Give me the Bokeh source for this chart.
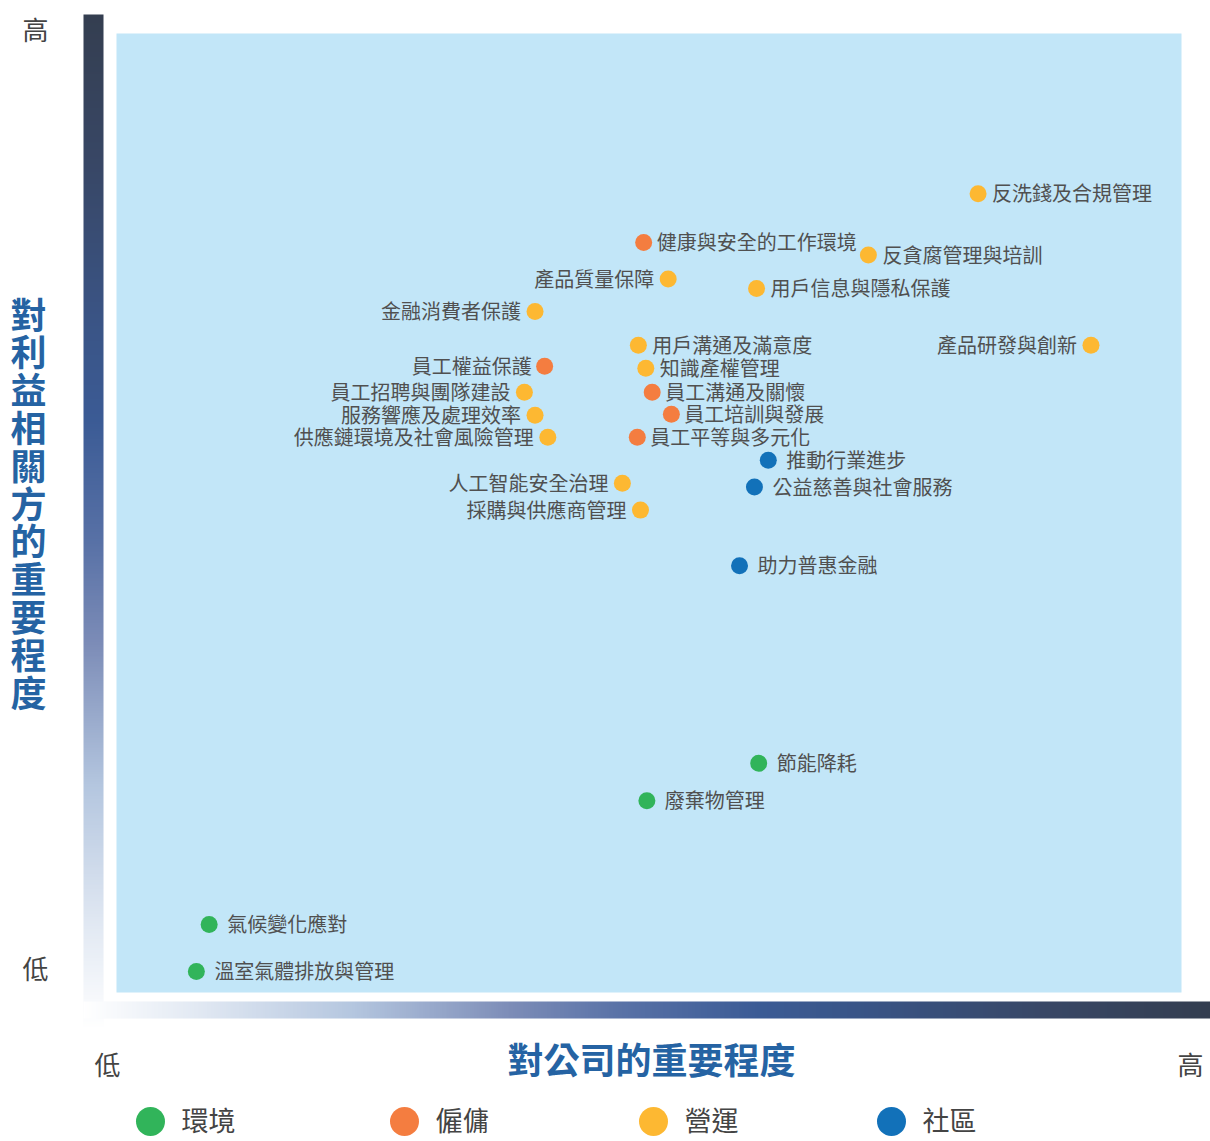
import numpy as np
from bokeh.plotting import figure
from bokeh.models import Range1d, ColumnDataSource
from bokeh.core.properties import value
from bokeh.embed import file_html
from bokeh.resources import INLINE

# ---------------- data ----------------
categories = ["環境", "僱傭", "營運", "社區"]
cat_colors = ["#31b45a", "#f47d40", "#fdb832", "#1271b9"]

topics = [
    "節能降耗", "廢棄物管理", "氣候變化應對", "溫室氣體排放與管理",
    "健康與安全的工作環境", "員工權益保護", "員工溝通及關懷", "員工培訓與發展", "員工平等與多元化",
    "反洗錢及合規管理", "反貪腐管理與培訓", "產品質量保障", "用戶信息與隱私保護", "金融消費者保護",
    "用戶溝通及滿意度", "產品研發與創新", "知識產權管理", "員工招聘與團隊建設", "服務響應及處理效率",
    "供應鏈環境及社會風險管理", "人工智能安全治理", "採購與供應商管理",
    "推動行業進步", "公益慈善與社會服務", "助力普惠金融",
]
topic_category = [
    "環境", "環境", "環境", "環境",
    "僱傭", "僱傭", "僱傭", "僱傭", "僱傭",
    "營運", "營運", "營運", "營運", "營運",
    "營運", "營運", "營運", "營運", "營運",
    "營運", "營運", "營運",
    "社區", "社區", "社區",
]
# importance to the company (x) and to stakeholders (y), 0-100
company_importance = [
    60.3, 49.8, 8.7, 7.5,
    49.5, 40.2, 50.3, 52.1, 48.9,
    80.9, 70.6, 51.8, 60.1, 39.3,
    49.0, 91.5, 49.7, 38.3, 39.3,
    40.5, 47.5, 49.2,
    61.2, 59.9, 58.5,
]
stakeholder_importance = [
    23.9, 20.0, 7.1, 2.2,
    78.2, 65.3, 62.6, 60.3, 57.9,
    83.3, 76.9, 74.4, 73.4, 71.0,
    67.5, 67.5, 65.1, 62.6, 60.2,
    57.9, 53.1, 50.3,
    55.5, 52.7, 44.5,
]
label_side = [
    "R", "R", "R", "R",
    "R", "L", "R", "R", "R",
    "R", "R", "L", "R", "L",
    "R", "L", "R", "L", "L",
    "L", "L", "L",
    "R", "R", "R",
]

x_title = "對公司的重要程度"
y_title = "對利益相關方的重要程度"
low_label, high_label = "低", "高"

# ---------------- layout helpers (pixel -> data) ----------------
W, H = 1210, 1141
PX0, PX1 = 116, 1181   # plot area left/right (px)
PY0, PY1 = 992, 33     # plot area bottom/top (px)
SX = (PX1 - PX0) / 100.0
SY = (PY0 - PY1) / 100.0

def dx(px):
    return (px - PX0) / SX

def dy(py):
    return (PY0 - py) / SY

FONT = value("Noto Sans CJK TC")

p = figure(width=W, height=H, output_backend="svg", toolbar_location=None,
           x_range=Range1d(dx(0), dx(W)), y_range=Range1d(dy(H), dy(0)),
           x_axis_location=None, y_axis_location=None, min_border=0,
           background_fill_color="white", border_fill_color="white")
p.outline_line_color = None
p.xgrid.visible = False
p.ygrid.visible = False

# plot background
p.quad(left=[0], right=[100], bottom=[0], top=[100], fill_color="#c2e6f8", line_color=None)

# gradient bars (t = 0 dark end, t = 1 white end)
stops_t = np.array([0.0, 0.15, 0.30, 0.40, 0.52, 0.62, 0.76, 0.90, 1.0])
stops_c = np.array([
    [0x34, 0x3e, 0x50], [0x38, 0x47, 0x66], [0x3a, 0x54, 0x85], [0x3b, 0x5b, 0x95],
    [0x58, 0x71, 0xa6], [0x7c, 0x8c, 0xb7], [0xb4, 0xc6, 0xdf], [0xe2, 0xe9, 0xf3],
    [0xff, 0xff, 0xff]], dtype=float)

N = 600
ts = (np.arange(N) + 0.5) / N

def grad_rgba(tv):
    out = np.empty(len(tv), dtype=np.uint32)
    view = out.view(dtype=np.uint8).reshape((len(tv), 4))
    for k in range(3):
        view[:, k] = np.round(np.interp(tv, stops_t, stops_c[:, k])).astype(np.uint8)
    view[:, 3] = 255
    return out

# left bar: image row 0 is the bottom (white)
left_img = grad_rgba(1 - ts).reshape((N, 1))
p.image_rgba(image=[left_img], x=dx(83), y=dy(1028), dw=dx(103) - dx(83), dh=dy(14) - dy(1028))
# bottom bar: column 0 is the left (white)
bottom_img = grad_rgba(1 - ts).reshape((1, N))
p.image_rgba(image=[bottom_img], x=dx(83), y=dy(1018), dw=dx(1210) - dx(83), dh=dy(1001) - dy(1018))

# points
color_map = dict(zip(categories, cat_colors))
src = ColumnDataSource(dict(
    x=company_importance, y=stakeholder_importance, name=topics,
    color=[color_map[c] for c in topic_category]))
p.scatter("x", "y", source=src, size=17, fill_color="color", line_color=None)

# labels
offsets = {"環境": 18, "僱傭": 13, "營運": 14, "社區": 18}
for side in ("L", "R"):
    idx = [i for i, s in enumerate(label_side) if s == side]
    sgn = 1 if side == "R" else -1
    p.text(x=[company_importance[i] for i in idx], y=[stakeholder_importance[i] for i in idx],
           text=[topics[i] for i in idx],
           x_offset=[sgn * offsets[topic_category[i]] for i in idx], y_offset=-1,
           text_align="left" if side == "R" else "right", text_baseline="middle",
           text_font=FONT, text_font_size="20px", text_color="#505050")

# corner labels
p.text(x=[dx(35), dx(35), dx(107), dx(1190)], y=[dy(28), dy(967), dy(1063), dy(1063)],
       text=[high_label, low_label, low_label, high_label],
       text_align="center", text_baseline="middle", text_font=FONT,
       text_font_size="26px", text_color="#444444")

# axis titles
p.text(x=[dx(651)], y=[dy(1057)], text=[x_title], text_align="center", text_baseline="middle",
       text_font=FONT, text_font_size="36px", text_font_style="bold", text_color="#2563a3")
n_y = len(y_title)
y_centers = [312 + i * (690 - 312) / (n_y - 1) for i in range(n_y)]
p.text(x=[dx(28)] * n_y, y=[dy(v) for v in y_centers], text=list(y_title), text_align="center",
       text_baseline="middle",
       text_font=FONT, text_font_size="36px", text_font_style="bold", text_color="#2563a3")

# legend
leg_px = [150, 404, 653, 891]
p.scatter(x=[dx(v) for v in leg_px], y=[dy(1121)] * 4, size=29,
          fill_color=cat_colors, line_color=None)
p.text(x=[dx(v + 31) for v in leg_px], y=[dy(1119)] * 4, text=categories,
       text_align="left", text_baseline="middle", text_font=FONT,
       text_font_size="27px", text_color="#444444")

open("out.html", "w").write(file_html(p, INLINE))
